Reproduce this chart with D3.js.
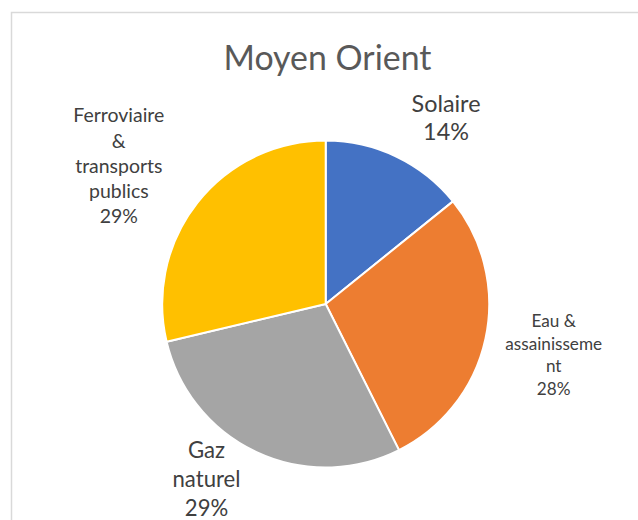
<!DOCTYPE html>
<html>
<head>
<meta charset="utf-8">
<script src="https://cdn.jsdelivr.net/npm/d3@7"></script>
<style>
  html, body { margin: 0; padding: 0; background: #fff; }
  svg { display: block; }
  text { font-family: Lato, "Open Sans", sans-serif; }
</style>
</head>
<body>
<svg id="chart" width="638" height="520"></svg>
<script>
// ---- data ----
const title = "Moyen Orient";
const categories = ["Solaire", "Eau & assainissement", "Gaz naturel", "Ferroviaire & transports publics"];
const values = [14.2, 28.4, 28.7, 28.7];
const labelLines = [
  ["Solaire"],
  ["Eau &", "assainisseme", "nt"],
  ["Gaz", "naturel"],
  ["Ferroviaire", "&", "transports", "publics"]
];
const colors = ["#4472C4", "#ED7D31", "#A5A5A5", "#FFC000"];

// ---- layout (styling only) ----
const W = 638, H = 520;
const cx = 325.7, cy = 304, R = 163.5;
// label layout: center x, first baseline, line gap, target width of widest line
const labelLayout = [
  { x: 446, y: 111.7, gap: 28.3, w: 69 },
  { x: 553.7, y: 327, gap: 22.6, w: 97 },
  { x: 206.5, y: 457.7, gap: 29, w: 68 },
  { x: 118.8, y: 122.3, gap: 25.2, w: 91 }
];

const svg = d3.select("#chart");

// chart area frame
svg.append("rect")
  .attr("x", 11.5).attr("y", 12.5)
  .attr("width", W + 20).attr("height", H + 20)
  .attr("fill", "#fff")
  .attr("stroke", "#D9D9D9")
  .attr("stroke-width", 1.5);

// fit font size so that text reaches a target width
function fitSize(sel, target, base) {
  sel.attr("font-size", base);
  const w = sel.node().getComputedTextLength();
  return base * target / w;
}

// title
const t = svg.append("text")
  .attr("x", 327.5).attr("y", 70)
  .attr("text-anchor", "middle")
  .attr("fill", "#595959")
  .text(title);
t.attr("font-size", fitSize(t, 208, 36));

// pie
const pie = d3.pie().sort(null).value(d => d).startAngle(0).endAngle(2 * Math.PI);
const arc = d3.arc().innerRadius(0).outerRadius(R);
const arcs = pie(values);
const total = d3.sum(values);

const g = svg.append("g").attr("transform", `translate(${cx},${cy})`);
g.selectAll("path")
  .data(arcs)
  .join("path")
  .attr("d", arc)
  .attr("fill", (d, i) => colors[i])
  .attr("stroke", "#fff")
  .attr("stroke-width", 2)
  .attr("stroke-linejoin", "round");

// data labels
arcs.forEach((a, i) => {
  const L = labelLayout[i];
  const lines = labelLines[i].concat([Math.round(a.value / total * 100) + "%"]);
  // determine font size from widest line
  const widest = labelLines[i].reduce((m, s) => s.length > m.length ? s : m, "");
  const probe = svg.append("text").text(widest);
  const fs = fitSize(probe, L.w, 20);
  probe.remove();
  const txt = svg.append("text")
    .attr("text-anchor", "middle")
    .attr("fill", "#404040")
    .attr("font-size", fs);
  lines.forEach((ln, k) => {
    txt.append("tspan")
      .attr("x", L.x)
      .attr("y", L.y + k * L.gap)
      .text(ln);
  });
});
</script>
</body>
</html>
